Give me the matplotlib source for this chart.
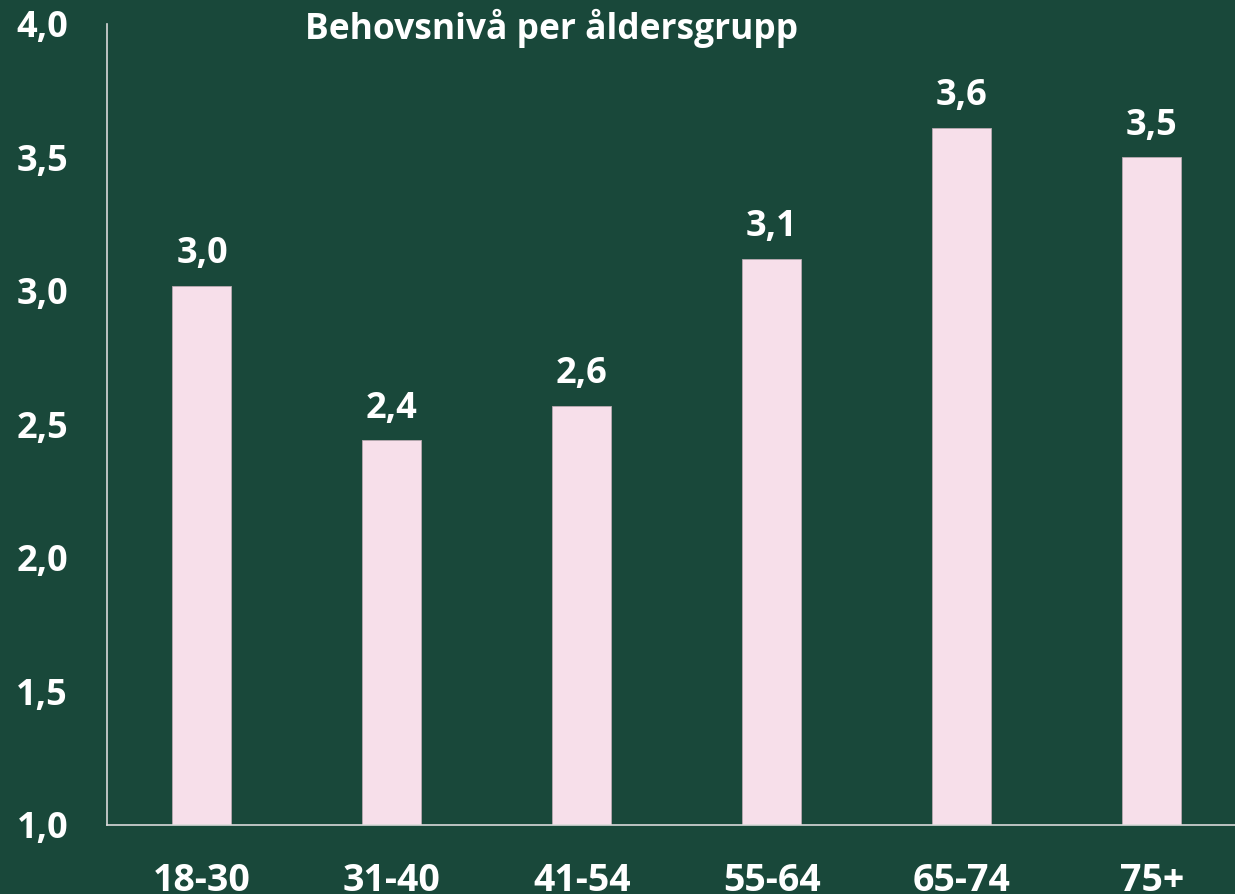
import matplotlib.pyplot as plt
from matplotlib.ticker import FuncFormatter

groups = ['18-30', '31-40', '41-54', '55-64', '65-74', '75+']
values = [3.02, 2.44, 2.57, 3.12, 3.61, 3.50]
yticks = [1.0, 1.5, 2.0, 2.5, 3.0, 3.5, 4.0]

bg = '#19483A'
bar_col = '#F7DFEA'

plt.rcParams['font.family'] = ['Open Sans', 'DejaVu Sans']
plt.rcParams['font.weight'] = 'bold'

fig = plt.figure(figsize=(12.35, 8.94), dpi=100, facecolor=bg)
ax = fig.add_axes([0.0866, 0.0772, 0.923, 0.896], facecolor=bg)

x = list(range(len(groups)))
bars = ax.bar(x, values, width=0.31, bottom=0, color=bar_col,
              edgecolor='#b8a9b0', linewidth=0.6, zorder=2)

for xi, v in zip(x, values):
    ax.annotate('{:.1f}'.format(v).replace('.', ','), (xi, v),
                xytext=(0, 10), textcoords='offset points',
                ha='center', va='bottom', color='white',
                fontsize=26, fontweight='bold')

ax.set_xlim(-0.5, len(groups) - 0.5)
ax.set_ylim(1.0, 4.0)
ax.set_yticks(yticks)
ax.yaxis.set_major_formatter(FuncFormatter(lambda v, p: '{:.1f}'.format(v).replace('.', ',')))
ax.set_xticks(x)
ax.set_xticklabels(groups)

ax.tick_params(axis='y', length=0, pad=28, labelsize=26, labelcolor='white')
ax.tick_params(axis='x', length=0, pad=27, labelsize=27, labelcolor='white')
for t in ax.get_xticklabels() + ax.get_yticklabels():
    t.set_fontweight('bold')

for s in ['top', 'right']:
    ax.spines[s].set_visible(False)
for s in ['left', 'bottom']:
    ax.spines[s].set_color('#d9d9d9')
    ax.spines[s].set_linewidth(1.2)

fig.text(552 / 1235, 1 - 28 / 894, 'Behovsnivå per åldersgrupp', ha='center', va='center',
         color='white', fontsize=25.5, fontweight='bold')

fig.savefig('out.png', dpi=100, facecolor=bg)
